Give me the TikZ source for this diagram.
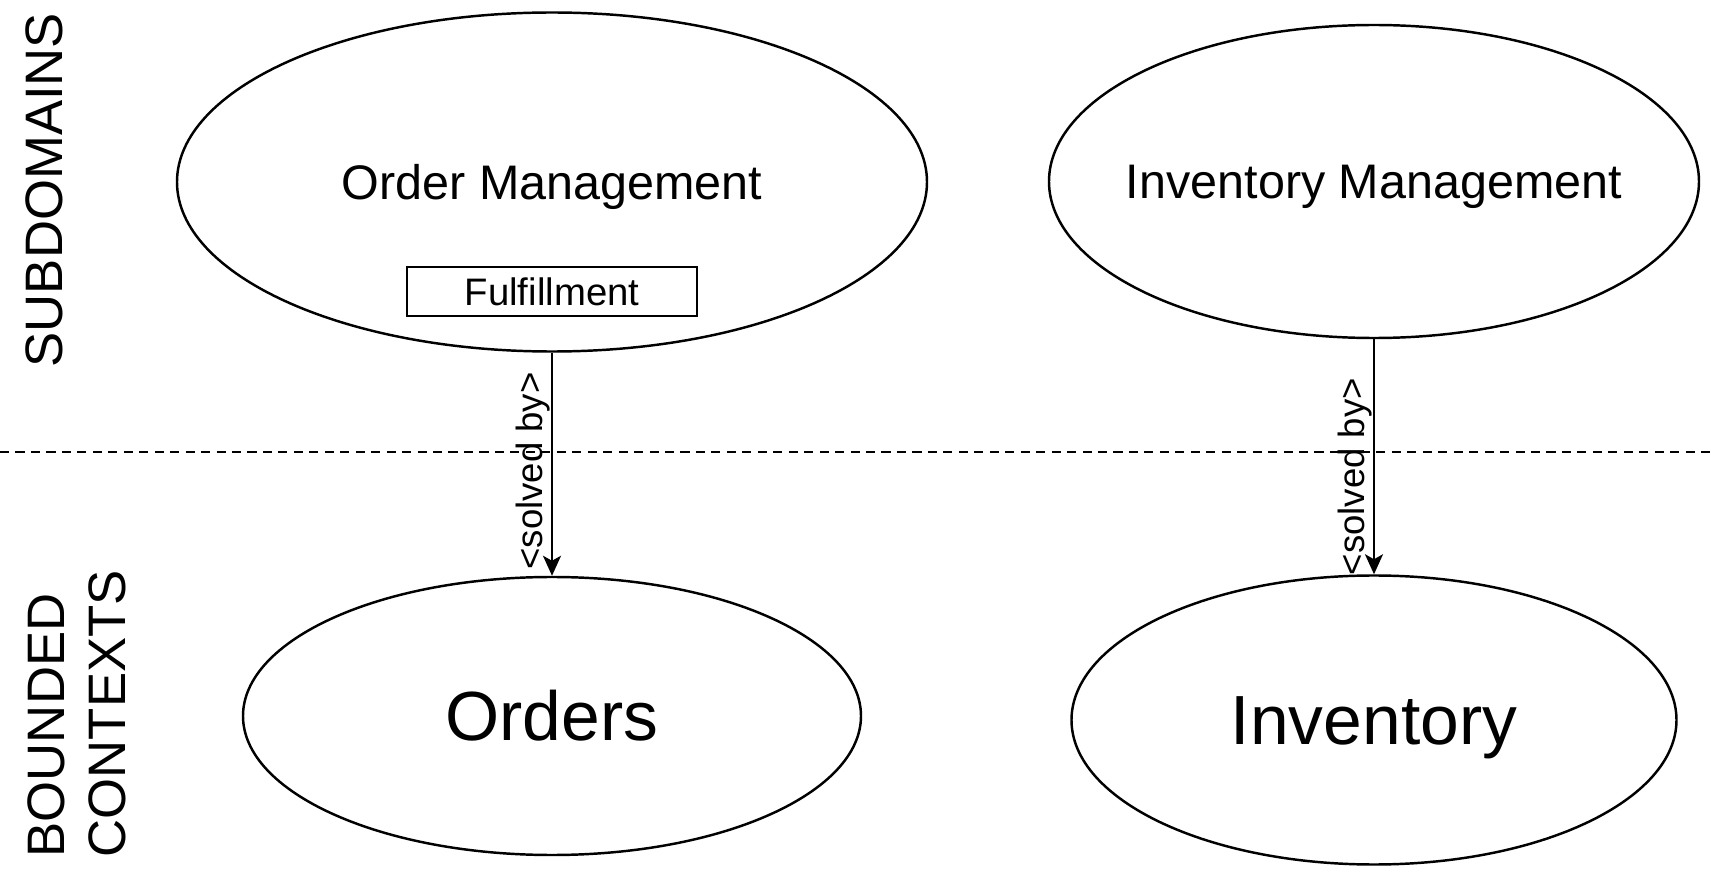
\documentclass[tikz,border=0pt]{standalone}
\usepackage{fontspec}
\setmainfont{Liberation Sans}
\usetikzlibrary{shapes.geometric,arrows.meta}

\begin{document}
\begin{tikzpicture}[
    ell/.style={draw, ellipse, inner sep=0pt, line width=0.7pt},
    sub/.style={ell, font=\fontsize{13.8}{16}\selectfont, text height=9.9pt, text depth=0pt},
    ctx/.style={ell, font=\fontsize{19.8}{23}\selectfont, text height=14.2pt, text depth=0pt},
    part/.style={draw, line width=0.7pt, minimum width=2.9cm, minimum height=0.49cm, inner sep=0pt, font=\fontsize{10.9}{13}\selectfont},
    arr/.style={line width=0.6pt, -{Stealth[length=2mm, width=1.8mm, inset=0.5mm]}},
    rel/.style={rotate=90, anchor=south, inner sep=0.3pt, font=\fontsize{10.4}{12}\selectfont},
    side/.style={rotate=90, anchor=west, align=left, inner sep=0pt, font=\fontsize{15}{17.4}\selectfont}
]
\useasboundingbox (0,0) rectangle (17.25,-8.72);

\node[sub, minimum width=7.5cm, minimum height=3.39cm] (om) at (5.52,-1.82) {Order Management};
\node[sub, minimum width=6.5cm, minimum height=3.13cm, inner xsep=-4mm] (im) at (13.74,-1.815) {Inventory Management};
\node[part] (ful) at (5.52,-2.915) {Fulfillment};

\node[ctx, minimum width=6.18cm, minimum height=2.78cm] (ord) at (5.52,-7.16) {Orders};
\node[ctx, minimum width=6.05cm, minimum height=2.89cm] (inv) at (13.74,-7.2) {Inventory};

\coordinate (divL) at (0,-4.52);
\coordinate (divR) at (17.16,-4.52);
\draw[line width=0.7pt, dash pattern=on 2.6pt off 1.8pt] (divL) -- (divR);

\draw[arr] (om.south) -- node[rel, pos=0.53] {<solved by>} (ord.north);
\draw[arr] (im.south) -- node[rel, pos=0.585] {<solved by>} (inv.north);

\node[side] (lsub) at (0.44,-3.68) {SUBDOMAINS};
\node[side] (lctx) at (0.765,-8.58) {BOUNDED\\CONTEXTS};
\end{tikzpicture}
\end{document}
